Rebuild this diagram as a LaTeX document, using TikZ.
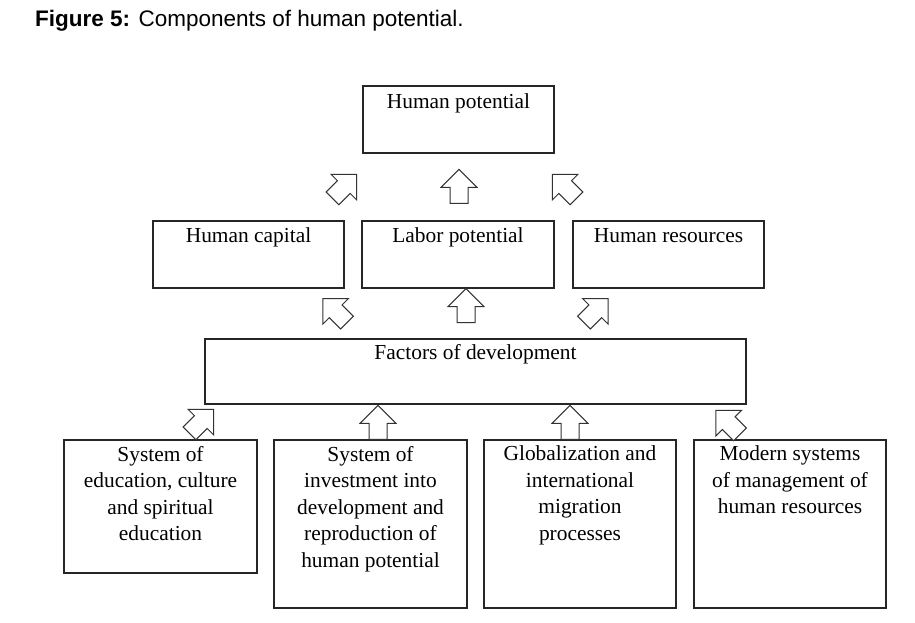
\documentclass[tikz,border=0pt]{standalone}
\usepackage{fontspec}
\setmainfont{Liberation Serif}
\newfontfamily\capfont{Liberation Sans}
\usetikzlibrary{calc}
\tikzset{
  box/.style={draw=black!85, line width=1.2pt, rectangle, inner sep=0pt},
  lbl/.style={inner sep=0pt, font=\fontsize{21.4}{26.5}\selectfont, align=center},
  arrowline/.style={draw=black!80, line width=1pt, fill=white, line join=miter},
  barrow/.pic={\path[arrowline] (-9,0) -- (-9,-16) -- (-18,-16) -- (0,-34) -- (18,-16) -- (9,-16) -- (9,0) -- cycle;}
}
\begin{document}
\begin{tikzpicture}[x=1pt,y=-1pt]
\useasboundingbox (0,0) rectangle (915,622);
% caption
\node[anchor=base west, inner sep=0pt, font=\capfont\fontsize{22.5}{26}\selectfont] (cap) at (35,26) {\textbf{Figure 5:} Components of human potential.};
% top
\node[box, minimum width=191pt, minimum height=67pt] (hp) at (458.5,119.5) {};
\node[lbl, anchor=base] (hpt) at ($(hp.north)+(0,23)$) {Human potential};
% second row
\node[box, minimum width=191pt, minimum height=67pt] (hc) at (248.5,254.5) {};
\node[lbl, anchor=base] (hct) at ($(hc.north)+(0,22)$) {Human capital};
\node[box, minimum width=192pt, minimum height=67pt] (lp) at (458,254.5) {};
\node[lbl, anchor=base] (lpt) at ($(lp.north)+(0,22)$) {Labor potential};
\node[box, minimum width=191pt, minimum height=67pt] (hr) at (668.5,254.5) {};
\node[lbl, anchor=base] (hrt) at ($(hr.north)+(0,22)$) {Human resources};
% factors
\node[box, minimum width=541pt, minimum height=65pt] (fd) at (475.5,371.5) {};
\node[lbl, anchor=base] (fdt) at ($(fd.north)+(0,21)$) {Factors of development};
% bottom row
\node[box, minimum width=193pt, minimum height=133pt] (b1) at (160.5,506.5) {};
\node[lbl, anchor=north] (b1t) at ($(b1.north)+(0,6.5)$) {System of\\education, culture\\and spiritual\\education};
\node[box, minimum width=193pt, minimum height=168pt] (b2) at (370.5,524) {};
\node[lbl, anchor=north] (b2t) at ($(b2.north)+(0,6.5)$) {System of\\investment into\\development and\\reproduction of\\human potential};
\node[box, minimum width=192pt, minimum height=168pt] (b3) at (580,524) {};
\node[lbl, anchor=north] (b3t) at ($(b3.north)+(0,6.5)$) {Globalization and\\international\\migration\\processes};
\node[box, minimum width=192pt, minimum height=168pt] (b4) at (790,524) {};
\node[lbl, anchor=north] (b4t) at ($(b4.north)+(0,6.5)$) {Modern systems\\of management of\\human resources};
% block arrows: row 1
\pic[rotate=-45] at ($(hc.north)+(84,-22)$) {barrow};
\pic at ($(lp.north)+(1,-17)$) {barrow};
\pic[rotate=45] at ($(hr.north)+(-92,-22)$) {barrow};
% row 2
\pic[rotate=45] at ($(hc.south)+(98.5,34)$) {barrow};
\pic at ($(lp.south)+(8,34)$) {barrow};
\pic[rotate=-45] at ($(hr.south)+(-84.5,34)$) {barrow};
% row 3
\pic[rotate=-45] at ($(b1.north)+(29,-6)$) {barrow};
\pic at ($(b2.north)+(7.5,0)$) {barrow};
\pic at ($(b3.north)+(-10,0)$) {barrow};
\pic[rotate=45] at ($(b4.north)+(-50,-5)$) {barrow};
\end{tikzpicture}
\end{document}
